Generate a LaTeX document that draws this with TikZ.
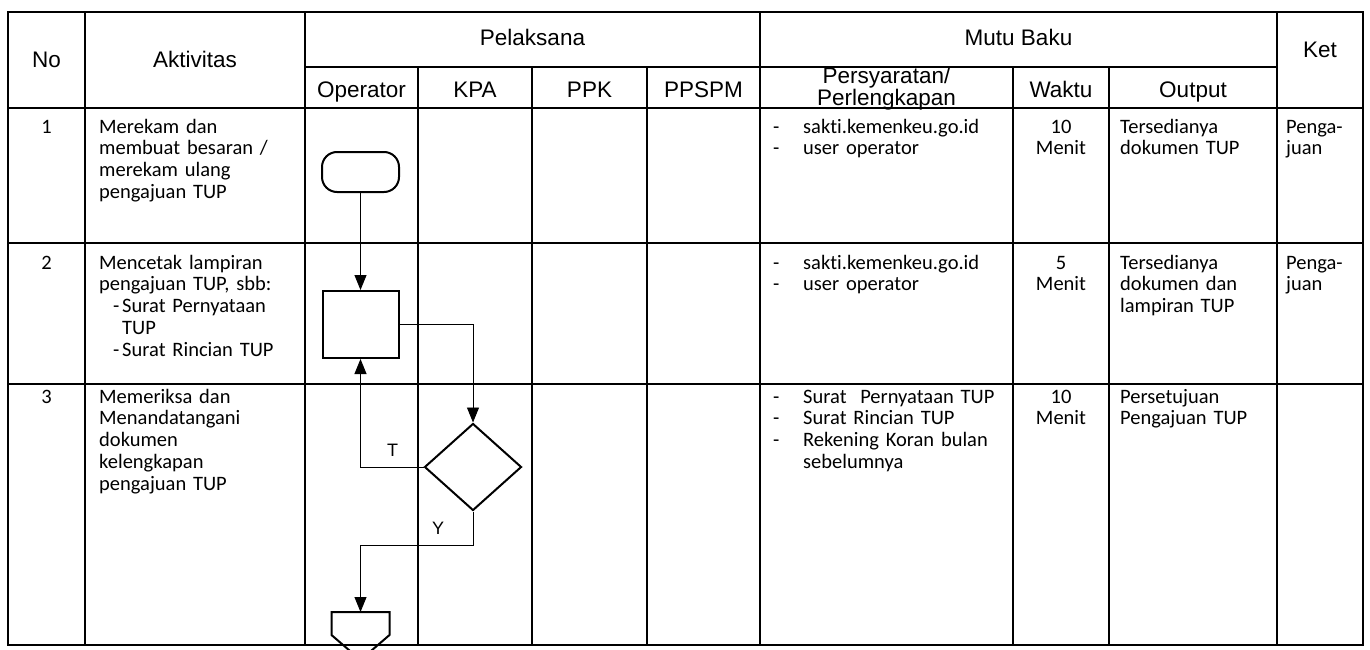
\documentclass[tikz,border=0pt]{standalone}
\usepackage{fontspec}
\setmainfont[Ligatures=NoCommon]{Carlito}
\newfontfamily\hdr{Liberation Sans}
\usetikzlibrary{arrows.meta,shapes.geometric}
\begin{document}
\begin{tikzpicture}[x=1pt,y=-1pt,
  grid/.style={line width=1.8pt},
  conn/.style={line width=0.9pt,-{Triangle[width=12pt,length=15pt]}},
  shp/.style={draw,line width=2pt,inner sep=0},
  hd/.style={font=\hdr\fontsize{22.5}{16}\selectfont,inner sep=0,anchor=base},
  lbl/.style={font=\hdr\fontsize{18}{18}\selectfont,inner sep=0,anchor=base},
  bd/.style={font=\fontsize{20.5}{21.8}\selectfont,inner sep=0,anchor=base west,align=left,text width=#1},
  bd/.default=210pt,
  bc/.style={font=\fontsize{20.5}{21.8}\selectfont,inner sep=0,anchor=base,align=center,text width=#1},
  bc/.default=80pt]
\useasboundingbox (0,0) rectangle (1370,650);
\clip (0,0) rectangle (1370,650);
% grid
\draw[grid] (8,12) rectangle (1363,645);
\foreach \x in {85,305,760,1277} \draw[grid] (\x,12) -- (\x,645);
\foreach \x in {418,532,647,1013,1109} \draw[grid] (\x,67) -- (\x,645);
\draw[grid] (305,67) -- (1277,67);
\foreach \y in {108,243,384} \draw[grid] (8,\y) -- (1363,\y);
% header
\node[hd] (hno) at (46.5,68) {No};
\node[hd] (hakt) at (195,68) {Aktivitas};
\node[hd] (hket) at (1320,58) {Ket};
\node[hd] (hpel) at (532.5,46) {Pelaksana};
\node[hd] (hmutu) at (1018.5,46) {Mutu Baku};
\node[hd] (hop) at (361.5,98) {Operator};
\node[hd] (hkpa) at (475,98) {KPA};
\node[hd] (hppk) at (589.5,98) {PPK};
\node[hd] (hppspm) at (703.5,98) {PPSPM};
\node[hd] (hwak) at (1061,98) {Waktu};
\node[hd] (hout) at (1193,98) {Output};
\node[hd,align=center,text width=240pt,font=\hdr\fontsize{22.5}{19}\selectfont] (hpers) at (886.5,84) {Persyaratan/\\Perlengkapan};
% row 1
\node[bc=40pt] (n1) at (46.5,133) {1};
\node[bd] (a1) at (99,133) {Merekam dan\\membuat besaran /\\merekam ulang\\pengajuan TUP};
\node[bd=240pt] (p1) at (773,133) {\makebox[30pt][l]{-}sakti.kemenkeu.go.id\\\makebox[30pt][l]{-}user operator};
\node[bc] (w1) at (1061,133) {10\\Menit};
\node[bd=150pt] (o1) at (1120,133) {Tersedianya\\dokumen TUP};
\node[bd=80pt] (k1) at (1286,133) {Penga-\\juan};
% row 2
\node[bc=40pt] (n2) at (46.5,269) {2};
\node[bd] (a2) at (99,269) {Mencetak lampiran\\pengajuan TUP, sbb:\\\hspace*{14pt}\makebox[9pt][l]{-}Surat Pernyataan\\\hspace*{23pt}TUP\\\hspace*{14pt}\makebox[9pt][l]{-}Surat Rincian TUP};
\node[bd=240pt] (p2) at (773,269) {\makebox[30pt][l]{-}sakti.kemenkeu.go.id\\\makebox[30pt][l]{-}user operator};
\node[bc] (w2) at (1061,269) {5\\Menit};
\node[bd=150pt] (o2) at (1120,269) {Tersedianya\\dokumen dan\\lampiran TUP};
\node[bd=80pt] (k2) at (1286,269) {Penga-\\juan};
% row 3
\node[bc=40pt] (n3) at (46.5,403) {3};
\node[bd] (a3) at (99,403) {Memeriksa dan\\Menandatangani\\dokumen\\kelengkapan\\pengajuan TUP};
\node[bd=240pt] (p3) at (773,403) {\makebox[30pt][l]{-}Surat\ \ Pernyataan TUP\\\makebox[30pt][l]{-}Surat Rincian TUP\\\makebox[30pt][l]{-}Rekening Koran bulan\\\hspace*{30pt}sebelumnya};
\node[bc] (w3) at (1061,403) {10\\Menit};
\node[bd=150pt] (o3) at (1120,403) {Persetujuan\\Pengajuan TUP};
% flowchart
\node[shp,rounded corners=15pt,minimum width=77pt,minimum height=40pt] (start) at (360.5,172) {};
\node[shp,minimum width=76pt,minimum height=67pt] (proc) at (360.5,324.5) {};
\node[shp,diamond,minimum width=97pt,minimum height=87pt] (dec) at (473,467) {};
\coordinate (off) at (360.5,612);
\draw[line width=2pt] (off) ++(-29,0) -- ++(58,0) -- ++(0,23) -- ++(-29,25) -- ++(-29,-25) -- cycle;
\draw[conn] (start.south) -- (proc.north);
\draw[conn] (proc.east) -| (dec.north);
\draw[conn] (dec.west) -| (proc.south);
\draw[conn] (dec.south) -- ++(0,33.5) -| (off);
\node[lbl] (tlab) at (392.5,456) {T};
\node[lbl] (ylab) at (438,534) {Y};
\end{tikzpicture}
\end{document}
